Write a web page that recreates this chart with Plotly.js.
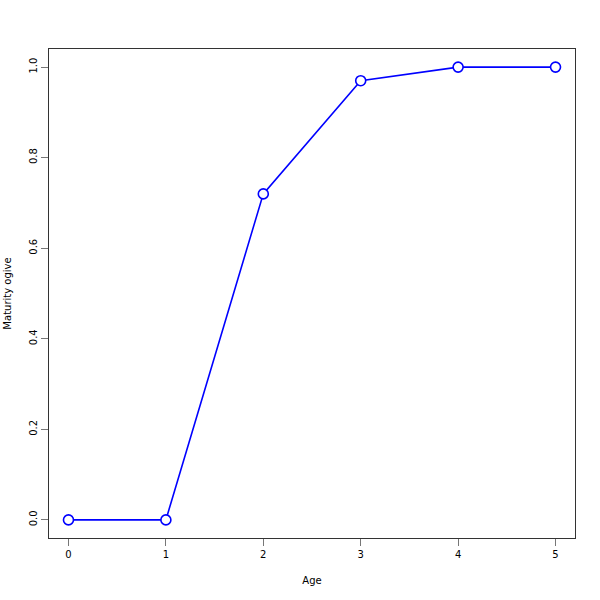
<!DOCTYPE html>
<html><head><meta charset="utf-8">
<script src="https://cdn.plot.ly/plotly-3.0.1.min.js"></script>
<style>body{margin:0;padding:0;background:#fff}#plot{width:600px;height:600px}</style>
</head><body><div id="plot"></div>
<script>
const ages = [0, 1, 2, 3, 4, 5];
const maturity = [0, 0, 0.72, 0.97, 1.0, 1.0];
const xTicks = [0, 1, 2, 3, 4, 5];
const yTicks = [0, 0.2, 0.4, 0.6, 0.8, 1.0];
const yTickText = ["0.0", "0.2", "0.4", "0.6", "0.8", "1.0"];

const trace = {
  x: ages, y: maturity, type: 'scatter', mode: 'lines+markers',
  line: {color: '#0000ff', width: 1.6},
  marker: {symbol: 'circle', size: 10, color: '#ffffff', line: {color: '#0000ff', width: 1.6}},
  hoverinfo: 'none'
};
const font = {family: 'DejaVu Sans, sans-serif', size: 10, color: '#000'};
const layout = {
  width: 600, height: 600,
  margin: {l: 49, r: 25, t: 49, b: 62},
  paper_bgcolor: '#fff', plot_bgcolor: '#fff',
  showlegend: false,
  font: font,
  xaxis: {
    range: [-0.2, 5.2], tickvals: xTicks, ticktext: xTicks.map(String),
    showgrid: false, zeroline: false, showline: true, mirror: true,
    linecolor: '#333', linewidth: 1, ticks: 'outside', ticklen: 7, tickcolor: '#777',
    tickfont: font,
    title: {text: 'Age', font: font, standoff: 17}
  },
  yaxis: {
    range: [-0.04, 1.04], tickvals: yTicks, ticktext: yTickText,
    showgrid: false, zeroline: false, showline: true, mirror: true,
    linecolor: '#333', linewidth: 1, ticks: 'outside', ticklen: 7, tickcolor: '#777',
    tickangle: -90, tickfont: font,
    title: {text: 'Maturity ogive', font: font, standoff: 14}
  }
};
Plotly.newPlot('plot', [trace], layout, {displayModeBar: false, staticPlot: true});
</script></body></html>
